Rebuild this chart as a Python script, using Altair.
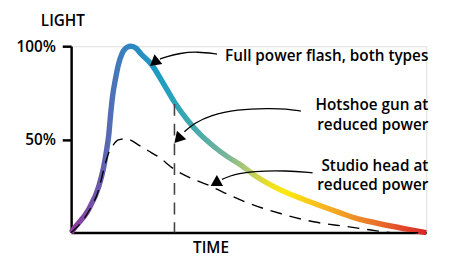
import altair as alt
import pandas as pd

# Full power flash curve (time in % of axis, light in %)
full_t = [0, 0.8, 5.0, 7.8, 9.2, 10.0, 10.6, 11.1, 11.7, 12.5, 13.3, 14.4, 15.8, 16.9, 18.3, 19.7,
          22.6, 25.8, 29.1, 32.8, 36.5, 40.2, 43.9, 47.6, 51.3, 55.9, 60.6, 65.2, 70.8, 75.8,
          80.8, 85.6, 90.3, 95.3, 100]
full_v = [0, 2.1, 12.7, 24.9, 35.4, 44.4, 52.4, 63.0, 73.5, 82.5, 90.0, 96.3, 99.5, 100, 98.9, 95.8,
          90.3, 80.6, 70.0, 60.3, 52.4, 46.2, 40.9, 36.5, 31.2, 25.9, 21.5, 18.0, 14.0, 10.6,
          7.4, 5.3, 3.4, 1.6, 0]

# Reduced power (studio head) curve
half_t = [0, 5.0, 7.8, 9.2, 10.6, 11.9, 13.3, 15.3, 16.9, 18.9, 21.7, 24.4, 29.1, 35.6, 39.2,
          43.0, 49.4, 59.2, 68.3, 77.8, 85.6, 91.1, 100]
half_v = [0, 11.6, 23.3, 33.9, 42.9, 47.1, 49.7, 50.3, 49.5, 47.1, 43.9, 40.9, 33.9, 27.7, 25.0,
          21.5, 16.2, 10.1, 5.8, 3.2, 1.1, 0, 0]

# Hotshoe cut-off time
cut_t = [29.1]
cut_v = [69.0]

# Annotation arrows: id, time, light
arrow_id = [1, 1, 1, 1, 1, 2, 2, 2, 2, 2, 2, 2, 3, 3, 3, 3, 3]
arrow_t = [41.1, 35.6, 30.6, 26.7, 25.0, 64.7, 60.6, 55.8, 46.7, 39.2, 34.7, 31.9,
           68.0, 60.6, 51.3, 45.8, 42.5]
arrow_v = [95.8, 97.1, 96.3, 94.2, 93.1, 65.2, 66.4, 66.7, 66.1, 63.0, 58.7, 54.1,
           32.1, 33.3, 33.0, 31.2, 28.6]
head_t = [23.4, 30.1, 40.6]
head_v = [91.2, 50.2, 26.5]
head_angle = [141, 132, 150]

# Labels
label_text = ["Full power flash, both types", "Hotshoe gun at", "reduced power",
              "Studio head at", "reduced power", "LIGHT"]
label_t = [100.6, 100.6, 100.6, 100.6, 100.6, 3.9]
label_v = [92.1, 65.6, 55.0, 33.3, 22.8, 110.6]
time_label = ["TIME"]
time_t = [39.4]
time_v = [-11.1]

FONT = "Open Sans"
WEIGHT = 600
FS = 15.5

full = pd.DataFrame({"t": full_t, "v": full_v, "i": range(len(full_t))})
half = pd.DataFrame({"t": half_t, "v": half_v, "i": range(len(half_t))})
cut = pd.DataFrame({"t": cut_t, "v": cut_v, "v0": [0]})
arrows = pd.DataFrame({"id": arrow_id, "t": arrow_t, "v": arrow_v, "i": range(len(arrow_t))})
heads = pd.DataFrame({"t": head_t, "v": head_v, "a": head_angle})
labels = pd.DataFrame({"text": label_text, "t": label_t, "v": label_v})
tlab = pd.DataFrame({"text": time_label, "t": time_t, "v": time_v})

xs = alt.Scale(domain=[0, 100], nice=False, zero=False)
ys = alt.Scale(domain=[0, 100], nice=False, zero=False)

x_axis = alt.Axis(ticks=False, labels=False, grid=False, domainColor="black", domainWidth=2.5,
                  title=None)
y_axis = alt.Axis(values=[50, 100], labelExpr="datum.value + '%'", grid=False,
                  tickSize=9, tickWidth=2.5, tickColor="black", domainColor="black",
                  domainWidth=2.5, labelPadding=7, labelFont=FONT, labelFontSize=FS,
                  labelFontWeight=WEIGHT, labelColor="black", title=None)

base_x = alt.X("t:Q", scale=xs, axis=x_axis)
base_y = alt.Y("v:Q", scale=ys, axis=y_axis)

rule = alt.Chart(cut).mark_rule(color="#444444", strokeWidth=1.6, strokeDash=[12, 8]).encode(
    x=alt.X("t:Q", scale=xs), y=alt.Y("v:Q", scale=ys), y2="v0:Q")

dashed = alt.Chart(half).mark_line(color="black", strokeWidth=1.4, strokeDash=[12, 8],
                                   interpolate="monotone").encode(
    x=alt.X("t:Q", scale=xs), y=alt.Y("v:Q", scale=ys), order="i:Q")

grad = alt.Gradient(
    gradient="linear", x1=0, x2=1, y1=0, y2=0,
    stops=[
        alt.GradientStop(color="#8e3a9a", offset=0.0),
        alt.GradientStop(color="#6a5aab", offset=0.08),
        alt.GradientStop(color="#4a74b8", offset=0.12),
        alt.GradientStop(color="#2c88c0", offset=0.17),
        alt.GradientStop(color="#1d9dc1", offset=0.25),
        alt.GradientStop(color="#3aa8b0", offset=0.33),
        alt.GradientStop(color="#7ab59a", offset=0.44),
        alt.GradientStop(color="#c0cf60", offset=0.51),
        alt.GradientStop(color="#f0e020", offset=0.56),
        alt.GradientStop(color="#fde910", offset=0.61),
        alt.GradientStop(color="#f7b520", offset=0.71),
        alt.GradientStop(color="#ee8a28", offset=0.81),
        alt.GradientStop(color="#e65a2a", offset=0.90),
        alt.GradientStop(color="#d8242b", offset=1.0),
    ])

solid = alt.Chart(full).mark_line(color=grad, strokeWidth=5.5, interpolate="monotone").encode(
    x=base_x, y=base_y, order="i:Q")

arrow_lines = alt.Chart(arrows).mark_line(color="black", strokeWidth=1.3,
                                          interpolate="basis").encode(
    x=alt.X("t:Q", scale=xs), y=alt.Y("v:Q", scale=ys), detail="id:N", order="i:Q")

arrow_heads = alt.Chart(heads).mark_point(shape="triangle-right", filled=True, color="black",
                                          opacity=1, size=160, strokeWidth=0).encode(
    x=alt.X("t:Q", scale=xs), y=alt.Y("v:Q", scale=ys), angle=alt.Angle("a:Q", scale=None))

texts = alt.Chart(labels).mark_text(align="right", baseline="alphabetic", font=FONT,
                                    fontSize=FS, fontWeight=WEIGHT, color="black").encode(
    x=alt.X("t:Q", scale=xs), y=alt.Y("v:Q", scale=ys), text="text:N")

time_text = alt.Chart(tlab).mark_text(align="center", baseline="alphabetic", font=FONT,
                                      fontSize=FS, fontWeight=WEIGHT, color="black").encode(
    x=alt.X("t:Q", scale=xs), y=alt.Y("v:Q", scale=ys), text="text:N")

chart = alt.layer(solid, rule, dashed, arrow_lines, arrow_heads, texts, time_text).properties(
    width=360, height=189,
    autosize=alt.AutoSizeParams(type="none"),
    padding={"left": 64, "top": 37, "right": 15, "bottom": 23},
).configure_view(stroke=None).configure(background="white")

chart.save("out.html", embed_options={"renderer": "svg", "actions": False})
